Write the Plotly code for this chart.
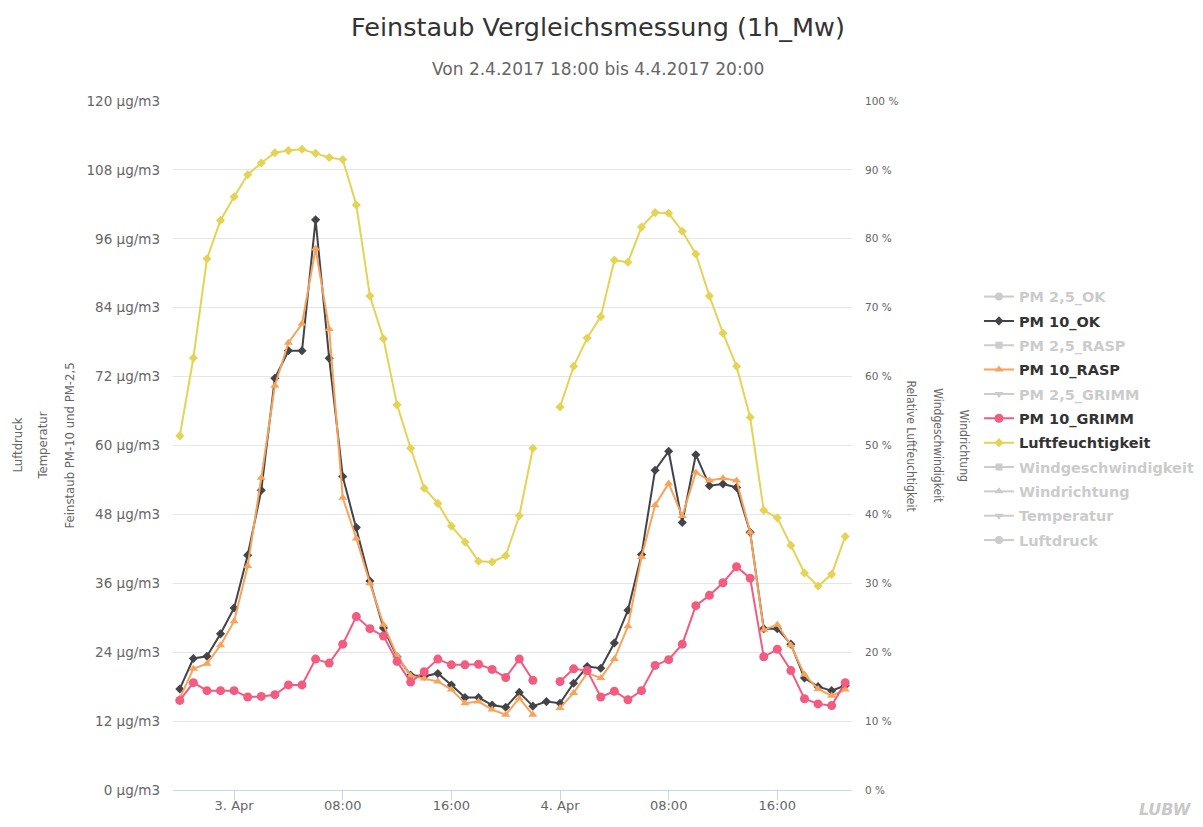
import plotly.graph_objects as go
import pandas as pd

# hourly means, first value 2.4.2017 20:00 (None = no value)
start = "2017-04-02 20:00"
n_hours = 50

pm10_ok = [17.6, 22.9, 23.3, 27.2, 31.7, 40.9, 52.2, 71.7, 76.5, 76.5,
           99.3, 75.2, 54.6, 45.7, 36.4, 28.2, 23.2, 20.0, 19.8, 20.3,
           18.3, 16.1, 16.1, 14.8, 14.4, 17.0, 14.6, 15.4, 15.1, 18.6,
           21.5, 21.2, 25.6, 31.3, 41.0, 55.7, 59.0, 46.6, 58.4, 53.0,
           53.3, 52.7, 44.9, 28.1, 28.1, 25.4, 19.5, 18.0, 17.3, 18.2]

pm10_rasp = [16.0, 21.1, 22.0, 25.2, 29.4, 39.0, 54.4, 70.4, 77.9, 81.2,
             94.3, 80.3, 50.9, 43.8, 36.0, 28.8, 23.4, 19.9, 19.4, 18.9,
             17.5, 15.1, 15.4, 14.0, 13.1, 16.0, 13.1, None, 14.3, 16.9,
             20.4, 19.5, 22.8, 28.5, 40.6, 49.6, 53.4, 47.7, 55.3, 53.9,
             54.3, 53.9, 44.9, 27.9, 28.8, 25.2, 20.1, 17.6, 16.4, 17.5]

pm10_grimm = [15.6, 18.7, 17.3, 17.3, 17.3, 16.2, 16.3, 16.6, 18.3, 18.3,
              22.8, 22.1, 25.4, 30.2, 28.1, 26.8, 22.4, 18.8, 20.6, 22.8,
              21.8, 21.8, 21.9, 21.0, 19.6, 22.8, 19.1, None, 18.9, 21.1,
              20.8, 16.2, 17.2, 15.7, 17.3, 21.7, 22.7, 25.4, 32.1, 33.9,
              36.1, 38.9, 36.9, 23.2, 24.5, 20.8, 15.9, 15.0, 14.7, 18.7]

luftfeuchte = [51.4, 62.7, 77.1, 82.7, 86.1, 89.3, 91.0, 92.5, 92.8, 93.0,
               92.4, 91.8, 91.5, 84.9, 71.7, 65.5, 55.9, 49.6, 43.8, 41.6,
               38.3, 36.0, 33.2, 33.1, 34.0, 39.8, 49.6, None, 55.6, 61.5,
               65.6, 68.7, 76.9, 76.6, 81.7, 83.8, 83.7, 81.1, 77.8, 71.7,
               66.3, 61.5, 54.1, 40.6, 39.5, 35.5, 31.5, 29.6, 31.3, 36.8]

x_tickvals = ["2017-04-03 00:00", "2017-04-03 08:00", "2017-04-03 16:00",
              "2017-04-04 00:00", "2017-04-04 08:00", "2017-04-04 16:00"]
x_ticktext = ["3. Apr", "08:00", "16:00", "4. Apr", "08:00", "16:00"]

times = pd.date_range(start, periods=n_hours, freq="h")

FONT = "DejaVu Sans, Verdana, sans-serif"
NARROW = "Liberation Sans Narrow, DejaVu Sans Condensed, sans-serif"
GREY = "#999999"

fig = go.Figure()

def add_line(name, y, color, symbol, size, axis="y", hidden=False):
    if hidden:
        # switched-off series: only a (greyed) legend entry
        fig.add_trace(go.Scatter(
            x=[times[0]], y=[None], mode="lines+markers", yaxis=axis,
            visible="legendonly",
            name=f"<span style='color:{GREY}'>{name}</span>",
            line=dict(color=GREY, width=2),
            marker=dict(symbol=symbol, size=size, color=GREY),
            legendgroup=name))
        return
    fig.add_trace(go.Scatter(
        x=times, y=y, mode="lines+markers", yaxis=axis, name=name,
        line=dict(color=color, width=2),
        marker=dict(symbol=symbol, size=size, color=color, line=dict(width=0)),
        legendgroup=name))

add_line("PM 2,5_OK", [], None, "circle", 8, hidden=True)
add_line("PM 10_OK", pm10_ok, "#434348", "diamond", 7)
add_line("PM 2,5_RASP", [], None, "square", 7, hidden=True)
add_line("PM 10_RASP", pm10_rasp, "#f7a35c", "triangle-up", 8)
add_line("PM 2,5_GRIMM", [], None, "triangle-down", 8, hidden=True)
add_line("PM 10_GRIMM", pm10_grimm, "#f15c80", "circle", 9)
add_line("Luftfeuchtigkeit", luftfeuchte, "#e4d354", "diamond", 7, axis="y2")
add_line("Windgeschwindigkeit", [], None, "square", 7, hidden=True)
add_line("Windrichtung", [], None, "triangle-up", 8, hidden=True)
add_line("Temperatur", [], None, "triangle-down", 8, hidden=True)
add_line("Luftdruck", [], None, "circle", 8, hidden=True)

# axis titles drawn as rotated annotations
left_titles = [("Luftdruck", -0.2297), ("Temperatur", -0.1915),
               ("Feinstaub PM-10 und PM-2,5", -0.1517)]
right_titles = [("Relative Luftfeuchtigkeit", 1.087),
                ("Windgeschwindigkeit", 1.127), ("Windrichtung", 1.166)]
annotations = []
for text, xp in left_titles:
    annotations.append(dict(text=text, x=xp, y=0.5, xref="paper", yref="paper",
                            xanchor="center", yanchor="middle",
                            textangle=-90, showarrow=False,
                            font=dict(family=NARROW, size=13, color="#666666")))
for text, xp in right_titles:
    annotations.append(dict(text=text, x=xp, y=0.5, xref="paper", yref="paper",
                            xanchor="center", yanchor="middle",
                            textangle=90, showarrow=False,
                            font=dict(family=NARROW, size=12, color="#666666")))
annotations.append(dict(text="Von 2.4.2017 18:00 bis 4.4.2017 20:00",
                        x=0.626, y=1.0465, xref="paper", yref="paper",
                        xanchor="center", yanchor="middle", showarrow=False,
                        font=dict(family=FONT, size=17, color="#666666")))
annotations.append(dict(text="<b><i>LUBW</i></b>", x=1.462, y=-0.029,
                        xref="paper", yref="paper", xanchor="center",
                        yanchor="middle", showarrow=False, borderpad=0,
                        font=dict(family=FONT, size=16, color="#c8c8c8")))

# page body has an 8px margin, so the figure is 16px smaller than the window
fig.update_layout(
    width=1187, height=811,
    margin=dict(l=165, r=343, t=93, b=29, autoexpand=False),
    paper_bgcolor="white", plot_bgcolor="white",
    title=dict(text="Feinstaub Vergleichsmessung (1h_Mw)", x=0.497, y=0.9766,
               xanchor="center", yanchor="middle",
               font=dict(family=FONT, size=25.5, color="#333333")),
    font=dict(family=FONT, color="#666666"),
    showlegend=True,
    legend=dict(x=1.187, y=0.539, xanchor="left", yanchor="middle",
                font=dict(family=FONT, size=14.5, color="#333333", weight="bold"),
                tracegroupgap=2.5, bgcolor="rgba(0,0,0,0)"),
    xaxis=dict(type="date", range=["2017-04-02 19:30", "2017-04-04 21:30"],
               tickvals=x_tickvals, ticktext=x_ticktext, automargin=False,
               showgrid=False, showline=True, linecolor="#ccd6eb",
               ticks="outside", ticklen=9, tickcolor="#ccd6eb",
               ticklabelstandoff=-6,
               tickfont=dict(size=13, color="#666666"), zeroline=False),
    yaxis=dict(range=[0, 120], dtick=12, ticksuffix=" \u00b5g/m3",
               showgrid=True, gridcolor="#e6e6e6", zeroline=False,
               showline=False, ticklabelstandoff=12, automargin=False,
               tickfont=dict(size=13.5, color="#666666")),
    yaxis2=dict(range=[0, 100], dtick=10, ticksuffix=" %", overlaying="y",
                side="right", showgrid=False, zeroline=False, showline=False,
                ticklabelstandoff=12, automargin=False,
                tickfont=dict(size=10.5, color="#666666")),
    annotations=annotations,
)

fig.write_html("out.html")
